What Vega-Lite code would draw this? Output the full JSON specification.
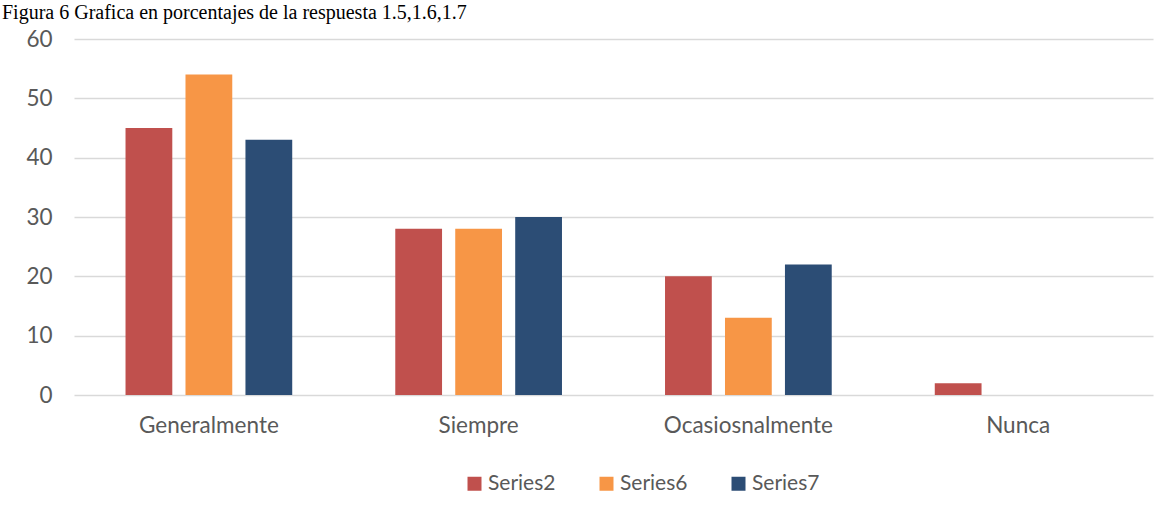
{
  "$schema": "https://vega.github.io/schema/vega-lite/v6.json",
  "autosize": "none",
  "width": 1079,
  "height": 356,
  "padding": {"left": 74, "top": 39, "right": 18, "bottom": 116},
  "background": "white",
  "title": {
    "text": "Figura 6 Grafica en porcentajes de la respuesta 1.5,1.6,1.7",
    "anchor": "start",
    "frame": "group",
    "font": "Liberation Serif",
    "fontSize": 20,
    "fontWeight": "normal",
    "color": "black",
    "baseline": "alphabetic",
    "offset": -11,
    "dx": -72
  },
  "data": {
    "values": [
      {"categoria": "Generalmente", "serie": "Series2", "valor": 45},
      {"categoria": "Generalmente", "serie": "Series6", "valor": 54},
      {"categoria": "Generalmente", "serie": "Series7", "valor": 43},
      {"categoria": "Siempre", "serie": "Series2", "valor": 28},
      {"categoria": "Siempre", "serie": "Series6", "valor": 28},
      {"categoria": "Siempre", "serie": "Series7", "valor": 30},
      {"categoria": "Ocasiosnalmente", "serie": "Series2", "valor": 20},
      {"categoria": "Ocasiosnalmente", "serie": "Series6", "valor": 13},
      {"categoria": "Ocasiosnalmente", "serie": "Series7", "valor": 22},
      {"categoria": "Nunca", "serie": "Series2", "valor": 2},
      {"categoria": "Nunca", "serie": "Series6", "valor": 0},
      {"categoria": "Nunca", "serie": "Series7", "valor": 0}
    ]
  },
  "mark": {"type": "bar"},
  "encoding": {
    "x": {
      "field": "categoria",
      "type": "nominal",
      "sort": ["Generalmente", "Siempre", "Ocasiosnalmente", "Nunca"],
      "scale": {"paddingInner": 0.382, "paddingOuter": 0.191},
      "axis": {
        "title": null,
        "labelAngle": 0,
        "labelFont": "Lato",
        "labelFontSize": 22.5,
        "labelColor": "#595959",
        "labelPadding": 19,
        "ticks": false,
        "domain": false
      }
    },
    "xOffset": {
      "field": "serie",
      "type": "nominal",
      "scale": {"paddingInner": 0.22, "paddingOuter": 0}
    },
    "y": {
      "field": "valor",
      "type": "quantitative",
      "scale": {"domain": [0, 60], "nice": false},
      "axis": {
        "title": null,
        "values": [0, 10, 20, 30, 40, 50, 60],
        "labelFont": "Lato",
        "labelFontSize": 22.5,
        "labelColor": "#595959",
        "labelPadding": 22,
        "ticks": false,
        "domain": false,
        "gridColor": "#D9D9D9",
        "gridWidth": 1.3
      }
    },
    "color": {
      "field": "serie",
      "type": "nominal",
      "scale": {"domain": ["Series2", "Series6", "Series7"], "range": ["#C0504D", "#F79646", "#2C4D75"]},
      "legend": {
        "title": null,
        "orient": "none",
        "direction": "horizontal",
        "legendX": 390,
        "legendY": 434,
        "symbolType": "square",
        "symbolSize": 196,
        "symbolStrokeWidth": 0,
        "labelFont": "Lato",
        "labelFontSize": 21,
        "labelColor": "#595959",
        "labelOffset": 3,
        "columnPadding": 40,
        "padding": 0
      }
    }
  },
  "config": {"view": {"stroke": null}}
}
